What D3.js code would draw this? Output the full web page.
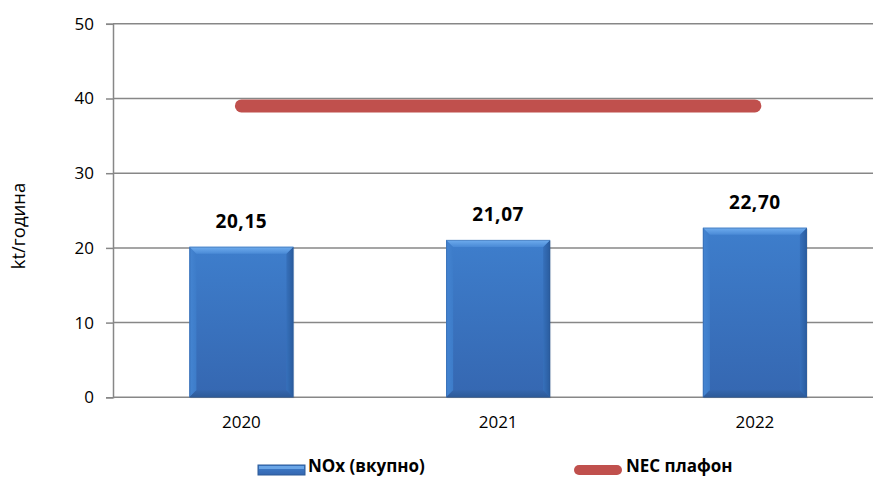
<!DOCTYPE html>
<html>
<head>
<meta charset="utf-8">
<script src="https://cdn.jsdelivr.net/npm/d3@7"></script>
<style>
  html, body { margin: 0; padding: 0; background: #fff; }
  svg { display: block; }
  text { font-family: "Open Sans", "Noto Sans", sans-serif; }
</style>
</head>
<body>
<svg id="chart" width="873" height="477"></svg>
<script>
// Annual NOx emissions against the national emission ceiling
const years = ["2020", "2021", "2022"];
const noxValues = [20.15, 21.07, 22.70];
const necCeiling = [39, 39, 39];
const yTicks = [0, 10, 20, 30, 40, 50];
const seriesNames = ["NOx (вкупно)", "NEC плафон"];
const yAxisTitle = "kt/година";

const svg = d3.select("#chart");
const W = 873, H = 477;
const plot = { left: 113, right: 883.25, top: 23.8, bottom: 397.3 };

const x = d3.scaleBand()
  .domain(years)
  .range([plot.left, plot.right])
  .paddingInner(0.595)
  .paddingOuter(0.2975);

const y = d3.scaleLinear().domain([0, 50]).range([plot.bottom, plot.top]);

const gridColor = "#878787";

// gradients for the bevelled bars
const defs = svg.append("defs");
function grad(id, vertical, stops) {
  const g = defs.append("linearGradient").attr("id", id)
    .attr("x1", 0).attr("y1", 0)
    .attr("x2", vertical ? 0 : 1).attr("y2", vertical ? 1 : 0);
  stops.forEach(([o, c]) => g.append("stop").attr("offset", o).attr("stop-color", c));
}
grad("barFace", true, [["0%", "#3e7ecc"], ["100%", "#3567b1"]]);
grad("bevTop", true, [["0%", "#6fadef"], ["100%", "#4a8ad6"]]);
grad("bevLeft", false, [["0%", "#4585d2"], ["100%", "#3d7cc9"]]);
grad("bevRight", false, [["0%", "#3670bb"], ["100%", "#2a5c9e"]]);
grad("bevBottom", true, [["0%", "#3566ad"], ["100%", "#2d5a98"]]);

// horizontal gridlines
svg.append("g")
  .selectAll("line")
  .data(yTicks.filter(d => d > 0))
  .join("line")
  .attr("x1", plot.left).attr("x2", W)
  .attr("y1", d => y(d)).attr("y2", d => y(d))
  .attr("stroke", gridColor).attr("stroke-width", 1.5);

// y axis
const yAxis = d3.axisLeft(y).tickValues(yTicks).tickSize(7).tickPadding(12)
  .tickFormat(d3.format("d"));
const gy = svg.append("g").attr("transform", `translate(${plot.left},0)`).call(yAxis);
gy.select(".domain").attr("stroke", gridColor).attr("stroke-width", 1.5);
gy.selectAll(".tick line").attr("stroke", gridColor).attr("stroke-width", 1.5);
gy.selectAll(".tick text").attr("font-size", 17).attr("fill", "#000")
  .attr("font-family", "'Open Sans', sans-serif");

// x axis
const xAxis = d3.axisBottom(x).tickSize(0).tickPadding(19);
const gx = svg.append("g").attr("transform", `translate(0,${plot.bottom})`).call(xAxis);
gx.select(".domain").remove();
svg.append("line")
  .attr("x1", plot.left).attr("x2", W)
  .attr("y1", plot.bottom).attr("y2", plot.bottom)
  .attr("stroke", gridColor).attr("stroke-width", 1.5);
gx.selectAll(".tick text").attr("font-size", 17).attr("fill", "#000")
  .attr("font-family", "'Open Sans', sans-serif");

// bars with bevelled edges
const bev = 7;
const bars = svg.append("g").selectAll("g.bar")
  .data(years.map((yr, i) => ({ yr, v: noxValues[i] })))
  .join("g").attr("class", "bar");

bars.each(function(d) {
  const g = d3.select(this);
  const x0 = x(d.yr), x1 = x0 + x.bandwidth();
  const y0 = y(d.v), y1 = y(0);
  // soft shadow
  g.append("rect").attr("x", x0 + 1).attr("y", y0 + 1)
    .attr("width", x.bandwidth()).attr("height", y1 - y0)
    .attr("fill", "#000").attr("opacity", 0.1);
  g.append("rect").attr("x", x0).attr("y", y0)
    .attr("width", x.bandwidth()).attr("height", y1 - y0)
    .attr("fill", "url(#barFace)");
  const poly = (pts, fill) => g.append("polygon")
    .attr("points", pts.map(p => p.join(",")).join(" ")).attr("fill", fill);
  poly([[x0, y0], [x0 + bev, y0 + bev], [x0 + bev, y1 - bev], [x0, y1]], "url(#bevLeft)");
  poly([[x1, y0], [x1, y1], [x1 - bev, y1 - bev], [x1 - bev, y0 + bev]], "url(#bevRight)");
  poly([[x0, y1], [x0 + bev, y1 - bev], [x1 - bev, y1 - bev], [x1, y1]], "url(#bevBottom)");
  poly([[x0, y0], [x1, y0], [x1 - bev, y0 + bev], [x0 + bev, y0 + bev]], "url(#bevTop)");
  g.append("rect").attr("x", x0 + 0.5).attr("y", y0 + 0.5)
    .attr("width", x.bandwidth() - 1).attr("height", y1 - y0 - 1)
    .attr("fill", "none").attr("stroke", "#2c5b97").attr("stroke-opacity", 0.4);
});

// value labels
const fmt = v => v.toFixed(2).replace(".", ",");
svg.append("g").selectAll("text")
  .data(years.map((yr, i) => ({ yr, v: noxValues[i] })))
  .join("text")
  .attr("x", d => x(d.yr) + x.bandwidth() / 2)
  .attr("y", d => y(d.v) - 19)
  .attr("text-anchor", "middle")
  .attr("font-size", 19).attr("font-weight", 700)
  .attr("letter-spacing", 0.6)
  .text(d => fmt(d.v));

// NEC ceiling line
const line = d3.line()
  .x((d, i) => x(years[i]) + x.bandwidth() / 2)
  .y(d => y(d));
svg.append("path")
  .datum(necCeiling)
  .attr("d", line)
  .attr("fill", "none")
  .attr("stroke", "#c0504d")
  .attr("stroke-width", 13)
  .attr("stroke-linecap", "round");

// y axis title
svg.append("text")
  .attr("transform", `translate(25,226) rotate(-90)`)
  .attr("text-anchor", "middle")
  .attr("font-size", 18.5)
  .text(yAxisTitle);

// legend
const lg = svg.append("g");
const sw = { x: 258, y: 465, w: 47, h: 10 };
lg.append("rect").attr("x", sw.x).attr("y", sw.y).attr("width", sw.w).attr("height", sw.h)
  .attr("fill", "url(#barFace)").attr("stroke", "#2c5b97").attr("stroke-width", 1);
lg.append("rect").attr("x", sw.x + 1).attr("y", sw.y + 1).attr("width", sw.w - 2).attr("height", 3)
  .attr("fill", "#6aa5e6");
lg.append("text").attr("x", 308).attr("y", 472)
  .attr("font-size", 17).attr("font-weight", 700).text(seriesNames[0]);

lg.append("line").attr("x1", 579).attr("x2", 617).attr("y1", 470).attr("y2", 470)
  .attr("stroke", "#c0504d").attr("stroke-width", 10).attr("stroke-linecap", "round");
lg.append("text").attr("x", 626).attr("y", 472)
  .attr("font-size", 17).attr("font-weight", 700).text(seriesNames[1]);
</script>
</body>
</html>
